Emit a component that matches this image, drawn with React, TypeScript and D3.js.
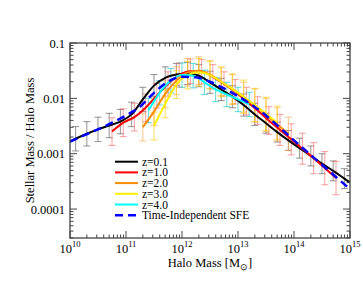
import React from "react";
import * as d3 from "d3";

// ---------- data (log10 halo mass, log10 stellar/halo ratio, error in dex) ----------
const blackX = [10.0, 10.1, 10.3, 10.5, 10.7, 10.9, 11.1, 11.3, 11.5, 11.7, 11.9, 12.1, 12.3, 12.5, 12.7, 12.9, 13.1, 13.3, 13.5, 13.7, 13.9, 14.1, 14.3, 14.5, 14.7, 14.9, 15.0];
const blackY = [-2.78, -2.73, -2.64, -2.56, -2.49, -2.42, -2.29, -2.02, -1.77, -1.63, -1.57, -1.55, -1.59, -1.71, -1.84, -1.97, -2.12, -2.29, -2.45, -2.61, -2.76, -2.90, -3.04, -3.18, -3.31, -3.45, -3.52];
const blackE = [0, 0.22, 0.22, 0.22, 0.22, 0.22, 0.22, 0.22, 0.2, 0.2, 0.2, 0.2, 0.2, 0.2, 0.2, 0.2, 0.2, 0.2, 0.18, 0.18, 0.18, 0.18, 0.18, 0.18, 0.18, 0.18, 0];

const redX = [10.75, 10.95, 11.15, 11.35, 11.55, 11.75, 11.95, 12.15, 12.35, 12.55, 12.75, 12.95, 13.15, 13.35, 13.55, 13.75, 13.95, 14.15, 14.35, 14.55, 14.75];
const redY = [-2.60, -2.44, -2.34, -2.17, -1.95, -1.74, -1.58, -1.51, -1.52, -1.61, -1.74, -1.88, -2.05, -2.22, -2.40, -2.57, -2.74, -2.91, -3.08, -3.26, -3.44];
const redE = [0.25, 0.25, 0.25, 0.25, 0.22, 0.22, 0.22, 0.22, 0.22, 0.22, 0.22, 0.22, 0.25, 0.25, 0.25, 0.28, 0.28, 0.28, 0.28, 0.3, 0.3];

const orangeX = [11.3, 11.5, 11.7, 11.9, 12.1, 12.3, 12.5, 12.7, 12.9, 13.1, 13.3, 13.5, 13.7, 13.9];
const orangeY = [-2.52, -2.24, -1.92, -1.68, -1.53, -1.50, -1.57, -1.70, -1.84, -1.98, -2.13, -2.30, -2.47, -2.64];
const orangeE = [0.25, 0.25, 0.25, 0.25, 0.25, 0.25, 0.25, 0.25, 0.27, 0.27, 0.3, 0.3, 0.3, 0.3];

const yellowX = [11.5, 11.7, 11.9, 12.1, 12.3, 12.5, 12.7, 12.9, 13.1, 13.3, 13.5, 13.7];
const yellowY = [-2.50, -2.10, -1.75, -1.58, -1.53, -1.58, -1.70, -1.83, -1.97, -2.12, -2.28, -2.44];
const yellowE = [0.25, 0.25, 0.25, 0.25, 0.25, 0.25, 0.27, 0.27, 0.3, 0.3, 0.3, 0.3];

const cyanX = [11.4, 11.6, 11.8, 12.0, 12.2, 12.4, 12.6, 12.8, 13.0, 13.2];
const cyanY = [-2.22, -1.90, -1.68, -1.58, -1.59, -1.71, -1.84, -1.93, -2.02, -2.11];
const cyanE = [0.22, 0.22, 0.22, 0.22, 0.22, 0.22, 0.22, 0.22, 0.22, 0.22];

const blueX = [10.0, 10.25, 10.5, 10.75, 11.0, 11.25, 11.5, 11.75, 12.0, 12.25, 12.5, 12.75, 13.0, 13.25, 13.5, 13.75, 14.0, 14.25, 14.5, 14.75, 15.0];
const blueY = [-2.78, -2.67, -2.56, -2.44, -2.31, -2.15, -1.90, -1.70, -1.61, -1.62, -1.70, -1.82, -1.96, -2.12, -2.31, -2.53, -2.76, -2.98, -3.20, -3.42, -3.64];

const legendLabels = ["z=0.1", "z=1.0", "z=2.0", "z=3.0", "z=4.0", "Time-Independent SFE"];
const xTickExps = [10, 11, 12, 13, 14, 15];
const yTickLabels = ["0.1", "0.01", "0.001", "0.0001"];
const yTickValues = [-1, -2, -3, -4];

// ---------- layout ----------
const W = 363, H = 281;
const L = 70, R = 350, T = 43, B = 238;
const FONT = "'Liberation Serif', 'Times New Roman', Times, serif";

const x = d3.scaleLinear().domain([10, 15]).range([L, R]);
const y = d3.scaleLinear().domain([Math.log10(3e-5), -1]).range([B, T]);

type Series = { xs: number[]; ys: number[]; es?: number[]; color: string; bar: string; dash?: string; width: number };

const series: Series[] = [
  { xs: blackX, ys: blackY, es: blackE, color: "#000000", bar: "rgba(90,90,90,0.6)", width: 2 },
  { xs: redX, ys: redY, es: redE, color: "#ff0000", bar: "rgba(255,80,80,0.5)", width: 2 },
  { xs: orangeX, ys: orangeY, es: orangeE, color: "#ff8c00", bar: "rgba(255,160,60,0.55)", width: 2 },
  { xs: yellowX, ys: yellowY, es: yellowE, color: "#ffee00", bar: "rgba(255,205,0,0.6)", width: 2 },
  { xs: cyanX, ys: cyanY, es: cyanE, color: "#00ffff", bar: "rgba(30,200,200,0.65)", width: 2 },
  { xs: blueX, ys: blueY, color: "#0000ff", bar: "none", dash: "8,5", width: 2.5 },
];

const line = d3
  .line<[number, number]>()
  .x((d) => x(d[0]))
  .y((d) => y(d[1]))
  .curve(d3.curveMonotoneX);

export default function App() {
  const capW = 3.5;
  const xMinor: number[] = [];
  for (let e = 10; e < 15; e++) for (let k = 2; k <= 9; k++) xMinor.push(e + Math.log10(k));
  const yMinor: number[] = [];
  for (let e = -5; e < -1; e++) for (let k = 2; k <= 9; k++) {
    const v = e + Math.log10(k);
    if (v >= Math.log10(3e-5) && v <= -1) yMinor.push(v);
  }
  const maj = 7, mnr = 3.5;
  const axisColor = "#444";

  return (
    <svg width={W} height={H} style={{ position: "absolute", left: 0, top: 0, background: "#fff" }} fontFamily={FONT}>
      <defs>
        <clipPath id="plotclip">
          <rect x={L} y={T} width={R - L} height={B - T} />
        </clipPath>
      </defs>
      <rect x={0} y={0} width={W} height={H} fill="#fff" />

      <g clipPath="url(#plotclip)">
        {series.map((s, si) =>
          s.es ? (
            <g key={"eb" + si} stroke={s.bar} strokeWidth={1.1} fill="none">
              {s.xs.map((xv, i) => {
                const e = s.es![i];
                if (!e) return null;
                const cx = x(xv);
                const y1 = y(s.ys[i] + e);
                const y2 = y(s.ys[i] - e);
                return (
                  <g key={i}>
                    <line x1={cx} x2={cx} y1={y1} y2={y2} />
                    <line x1={cx - capW} x2={cx + capW} y1={y1} y2={y1} />
                    <line x1={cx - capW} x2={cx + capW} y1={y2} y2={y2} />
                  </g>
                );
              })}
            </g>
          ) : null
        )}
        {series.map((s, si) => (
          <path
            key={"c" + si}
            d={line(s.xs.map((xv, i) => [xv, s.ys[i]] as [number, number])) || ""}
            fill="none"
            stroke={s.color}
            strokeWidth={s.width}
            strokeDasharray={s.dash}
          />
        ))}
      </g>

      <rect x={L} y={T} width={R - L} height={B - T} fill="none" stroke={axisColor} strokeWidth={1.3} />

      <g stroke={axisColor} strokeWidth={1}>
        {xTickExps.map((e) => (
          <g key={"xt" + e}>
            <line x1={x(e)} x2={x(e)} y1={B} y2={B - maj} />
            <line x1={x(e)} x2={x(e)} y1={T} y2={T + maj} />
          </g>
        ))}
        {xMinor.map((v, i) => (
          <g key={"xm" + i}>
            <line x1={x(v)} x2={x(v)} y1={B} y2={B - mnr} />
            <line x1={x(v)} x2={x(v)} y1={T} y2={T + mnr} />
          </g>
        ))}
        {yTickValues.map((v) => (
          <g key={"yt" + v}>
            <line x1={L} x2={L + maj} y1={y(v)} y2={y(v)} />
            <line x1={R} x2={R - maj} y1={y(v)} y2={y(v)} />
          </g>
        ))}
        {yMinor.map((v, i) => (
          <g key={"ym" + i}>
            <line x1={L} x2={L + mnr} y1={y(v)} y2={y(v)} />
            <line x1={R} x2={R - mnr} y1={y(v)} y2={y(v)} />
          </g>
        ))}
      </g>

      <g fontSize={12.5} fill="#000">
        {yTickValues.map((v, i) => (
          <text key={"yl" + v} x={L - 5} y={y(v) + 4.5} textAnchor="end">
            {yTickLabels[i]}
          </text>
        ))}
        {xTickExps.map((e) => (
          <text key={"xl" + e} x={x(e)} y={253} textAnchor="middle">
            10
            <tspan dy={-6} fontSize={8.5}>
              {e}
            </tspan>
          </text>
        ))}
      </g>

      <text x={(L + R) / 2} y={267} textAnchor="middle" fontSize={12.5}>
        Halo Mass [M
        <tspan dy={3} fontSize={9}>
          ⊙
        </tspan>
        <tspan dy={-3}>]</tspan>
      </text>
      <text transform={`translate(${34},${(T + B) / 2}) rotate(-90)`} textAnchor="middle" fontSize={12.5}>
        Stellar Mass / Halo Mass
      </text>

      <g>
        {series.map((s, i) => {
          const ly = 161.7 + i * 10.7;
          return (
            <g key={"lg" + i}>
              <line x1={115} x2={138} y1={ly} y2={ly} stroke={s.color} strokeWidth={s.width} strokeDasharray={s.dash} />
              <text x={142} y={ly + 4} fontSize={11.5}>
                {legendLabels[i]}
              </text>
            </g>
          );
        })}
      </g>
    </svg>
  );
}
